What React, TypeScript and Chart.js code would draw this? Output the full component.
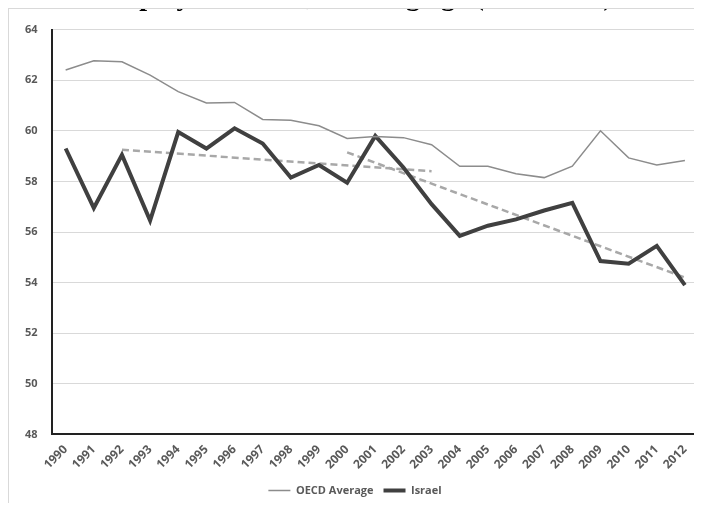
import React, { useEffect, useRef } from "react";
import { Chart, registerables } from "chart.js";
Chart.register(...registerables);

const years = ["1990","1991","1992","1993","1994","1995","1996","1997","1998","1999","2000","2001","2002","2003","2004","2005","2006","2007","2008","2009","2010","2011","2012"];
const oecd = [62.4,62.77,62.73,62.2,61.55,61.1,61.12,60.45,60.42,60.2,59.7,59.77,59.73,59.45,58.6,58.6,58.3,58.15,58.6,60.0,58.93,58.65,58.83];
const israel = [59.3,56.95,59.05,56.45,59.95,59.3,60.1,59.5,58.15,58.65,57.95,59.8,58.55,57.1,55.85,56.25,56.5,56.85,57.15,54.85,54.75,55.45,53.9];
const trend1 = [null,null,59.25,null,null,null,null,null,null,null,null,null,null,58.4,null,null,null,null,null,null,null,null,null];
const trend2 = [null,null,null,null,null,null,null,null,null,null,59.15,null,null,null,null,null,null,null,null,null,null,null,54.2];

export default function App() {
  const ref = useRef<HTMLCanvasElement>(null);
  useEffect(() => {
    const font = { family: "Open Sans", size: 11, weight: "bold" as const };
    const chart = new Chart(ref.current!, {
      type: "line",
      data: {
        labels: years,
        datasets: [
          { label: "OECD Average", data: oecd, borderColor: "#8c8c8c", borderWidth: 1.5, pointRadius: 0, tension: 0 },
          { label: "Israel", data: israel, borderColor: "#404040", borderWidth: 4, pointRadius: 0, tension: 0 },
          { label: "t1", data: trend1, borderColor: "#a8a8a8", borderWidth: 2.5, borderDash: [7, 4], pointRadius: 0, spanGaps: true },
          { label: "t2", data: trend2, borderColor: "#a8a8a8", borderWidth: 2.5, borderDash: [7, 4], pointRadius: 0, spanGaps: true },
        ],
      },
      options: {
        animation: false,
        responsive: false,
        layout: { padding: { top: 4, right: 2, left: 2, bottom: 4 } },
        plugins: {
          legend: {
            position: "bottom",
            labels: {
              color: "#595959", font,
              boxWidth: 22, boxHeight: 0,
              filter: (item) => item.text !== "t1" && item.text !== "t2",
            },
          },
          tooltip: { enabled: false },
        },
        scales: {
          x: {
            offset: true,
            grid: { display: false, drawTicks: true, tickLength: 5, tickColor: "#222" },
            border: { color: "#222", width: 2 },
            ticks: { color: "#595959", font: { ...font, size: 12 }, maxRotation: 45, minRotation: 45, autoSkip: false },
          },
          y: {
            min: 48, max: 64,
            grid: { color: "#d9d9d9", drawTicks: false },
            border: { color: "#222", width: 2 },
            ticks: { color: "#595959", font, stepSize: 2, padding: 14 },
          },
        },
      },
    });
    return () => chart.destroy();
  }, []);
  return (
    <div style={{ position: "relative", width: 694, height: 503, overflow: "hidden", border: "1px solid #d9d9d9", boxSizing: "border-box", margin: "-8px 0 0 -8px", left: 8, top: 8 }}>
      <div style={{ position: "absolute", top: -28, left: 0, width: "100%", textAlign: "center", fontFamily: "Liberation Serif", fontWeight: "bold", fontSize: 28, color: "#000", lineHeight: "30px" }}>
        Employment rate, working age (% of total)
      </div>
      <canvas ref={ref} width={692} height={501} />
    </div>
  );
}
